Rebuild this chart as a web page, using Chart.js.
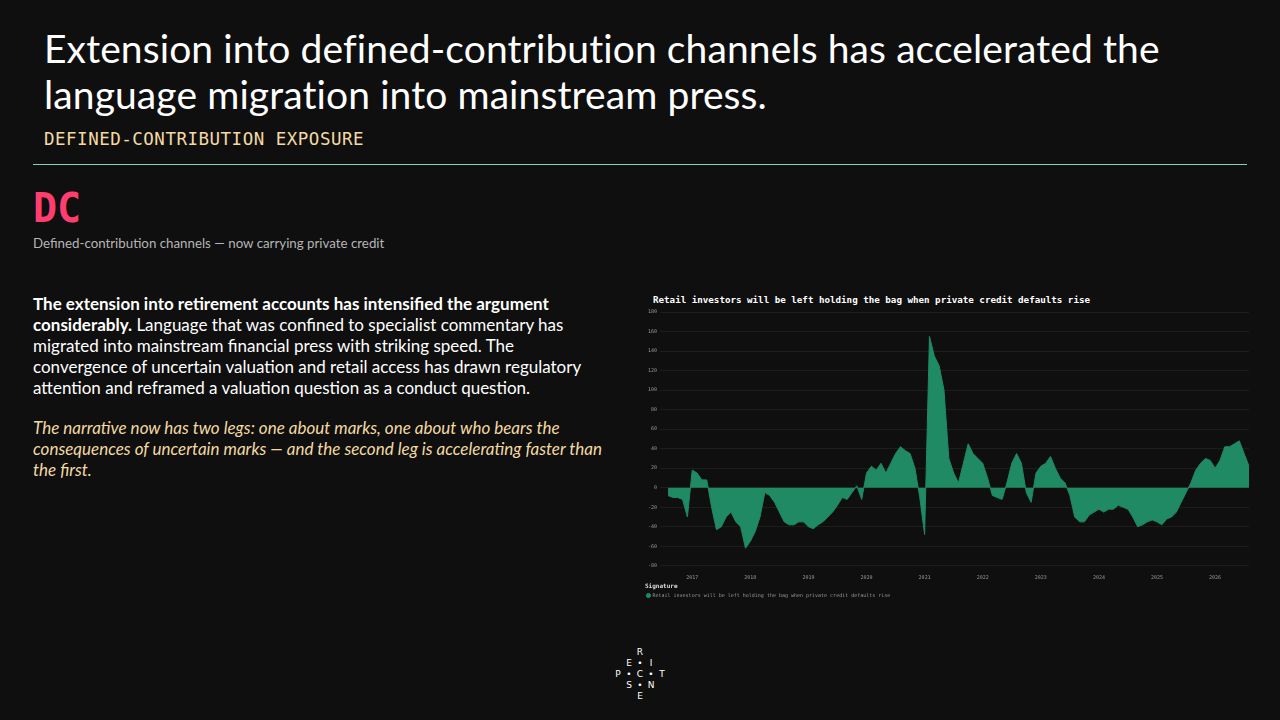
<!DOCTYPE html>
<html><head><meta charset="utf-8">
<script src="https://cdn.jsdelivr.net/npm/chart.js@4"></script>
<style>
html,body{margin:0;padding:0;background:#0f0f0f;width:1280px;height:720px;overflow:hidden;font-family:Lato,"Open Sans",sans-serif;}
.t{position:absolute;left:44px;top:25px;width:1220px;color:#fff;font-size:39px;line-height:46px;letter-spacing:0.1px}
.sub{position:absolute;left:44px;top:129px;color:#f3d9a4;font-family:"DejaVu Sans Mono",monospace;font-size:17.5px;letter-spacing:0.5px}
.rule{position:absolute;left:33px;top:164px;width:1214px;height:1px;background:#7fd6b5}
.dc{position:absolute;left:33px;top:185px;color:#ff3d6e;font-family:"DejaVu Sans Mono",monospace;font-weight:bold;font-size:40px}
.cap{position:absolute;left:33px;top:235px;color:#b5b5b5;font-size:13.3px}
.p1{position:absolute;left:33px;top:293px;width:572px;color:#fff;font-size:17px;line-height:21px}
.p2{position:absolute;left:33px;top:417px;width:595px;color:#f3d9a4;font-size:17px;line-height:21px;font-style:italic}
.ct{position:absolute;left:653px;top:294px;color:#fff;font-family:"DejaVu Sans Mono",monospace;font-weight:bold;font-size:9.2px}
#wrap{position:absolute;left:645px;top:306px;width:605px;height:302px}
.logo{position:absolute;left:612px;top:647px;width:56px;height:54px;color:#fff;font-family:"DejaVu Sans",sans-serif;font-size:9px}
.logo span{position:absolute;transform:translate(-50%,-50%)}
</style></head><body>
<div class="t">Extension into defined-contribution channels has accelerated the language migration into mainstream press.</div>
<div class="sub">DEFINED-CONTRIBUTION EXPOSURE</div>
<div class="rule"></div>
<div class="dc">DC</div>
<div class="cap">Defined-contribution channels — now carrying private credit</div>
<div class="p1"><b>The extension into retirement accounts has intensified the argument considerably.</b> Language that was confined to specialist commentary has migrated into mainstream financial press with striking speed. The convergence of uncertain valuation and retail access has drawn regulatory attention and reframed a valuation question as a conduct question.</div>
<div class="p2">The narrative now has two legs: one about marks, one about who bears the consequences of uncertain marks — and the second leg is accelerating faster than the first.</div>
<div class="ct">Retail investors will be left holding the bag when private credit defaults rise</div>
<div id="wrap"><canvas id="c"></canvas></div>
<div class="logo">
<span style="left:28px;top:5px">R</span>
<span style="left:17px;top:16px">E</span><span style="left:28px;top:16px">•</span><span style="left:39px;top:16px">I</span>
<span style="left:6px;top:27px">P</span><span style="left:17px;top:27px">•</span><span style="left:28px;top:27px">C</span><span style="left:39px;top:27px">•</span><span style="left:50px;top:27px">T</span>
<span style="left:17px;top:38px">S</span><span style="left:28px;top:38px">•</span><span style="left:39px;top:38px">N</span>
<span style="left:28px;top:49px">E</span>
</div>
<script>
const seriesName = "Retail investors will be left holding the bag when private credit defaults rise";
const startYear = 2016, startMonth = 8;
const values = [
-8,-10,-10,-12,-30,
18,15,8,8,-20,-43,-40,-30,-25,-35,-40,-62,
-55,-45,-30,-5,-8,-15,-25,-35,-38,-38,-35,-35,
-40,-42,-38,-35,-30,-25,-18,-10,-12,-5,2,-12,
15,22,18,25,15,25,35,42,38,35,20,-10,
-48,155,135,125,100,30,15,5,25,45,35,30,
25,10,-8,-10,-12,5,25,35,25,-5,-15,15,
22,25,32,20,10,5,-8,-30,-35,-35,-28,-25,
-22,-25,-22,-22,-18,-20,-22,-30,-40,-38,-35,-33,
-35,-38,-32,-30,-25,-15,-5,5,18,25,30,28,
20,28,42,42,45,48,35,22];
const labels = values.map((v,i)=>{const m=startMonth-1+i;return (startYear+Math.floor(m/12))+"-"+String(m%12+1).padStart(2,"0");});
const yTicks = [180,160,140,120,100,80,60,40,20,0,-20,-40,-60,-80];
new Chart(document.getElementById('c'),{
 type:'line',
 data:{labels,datasets:[{label:seriesName,data:values,fill:'origin',backgroundColor:'#1f8a63',borderColor:'#1f8a63',borderWidth:1,pointRadius:0,tension:0}]},
 options:{responsive:true,maintainAspectRatio:false,animation:false,
  layout:{padding:{left:0,right:0,top:0,bottom:0}},
  scales:{
   x:{grid:{display:false},border:{display:false},ticks:{color:'#999',font:{size:5,family:'DejaVu Sans Mono'},autoSkip:false,maxRotation:0,padding:1,
      callback:function(v,i){const l=labels[i];return l.endsWith('-01')?l.slice(0,4):'';}}},
   y:{min:-80,max:180,afterBuildTicks:a=>{a.ticks=yTicks.map(v=>({value:v}));},grid:{color:'#262626',lineWidth:0.6},border:{display:false},
      ticks:{color:'#999',font:{size:5,family:'DejaVu Sans Mono'}}}
  },
  plugins:{legend:{position:'bottom',align:'start',title:{display:true,position:'start',text:'Signature',color:'#ddd',font:{size:6,weight:'bold',family:'DejaVu Sans Mono'},padding:{top:2,bottom:0}},
     labels:{color:'#999',boxWidth:3,boxHeight:3,usePointStyle:true,pointStyle:'circle',font:{size:5,family:'DejaVu Sans Mono'},padding:2}},
   tooltip:{enabled:false}}
 }});
</script>
</body></html>
